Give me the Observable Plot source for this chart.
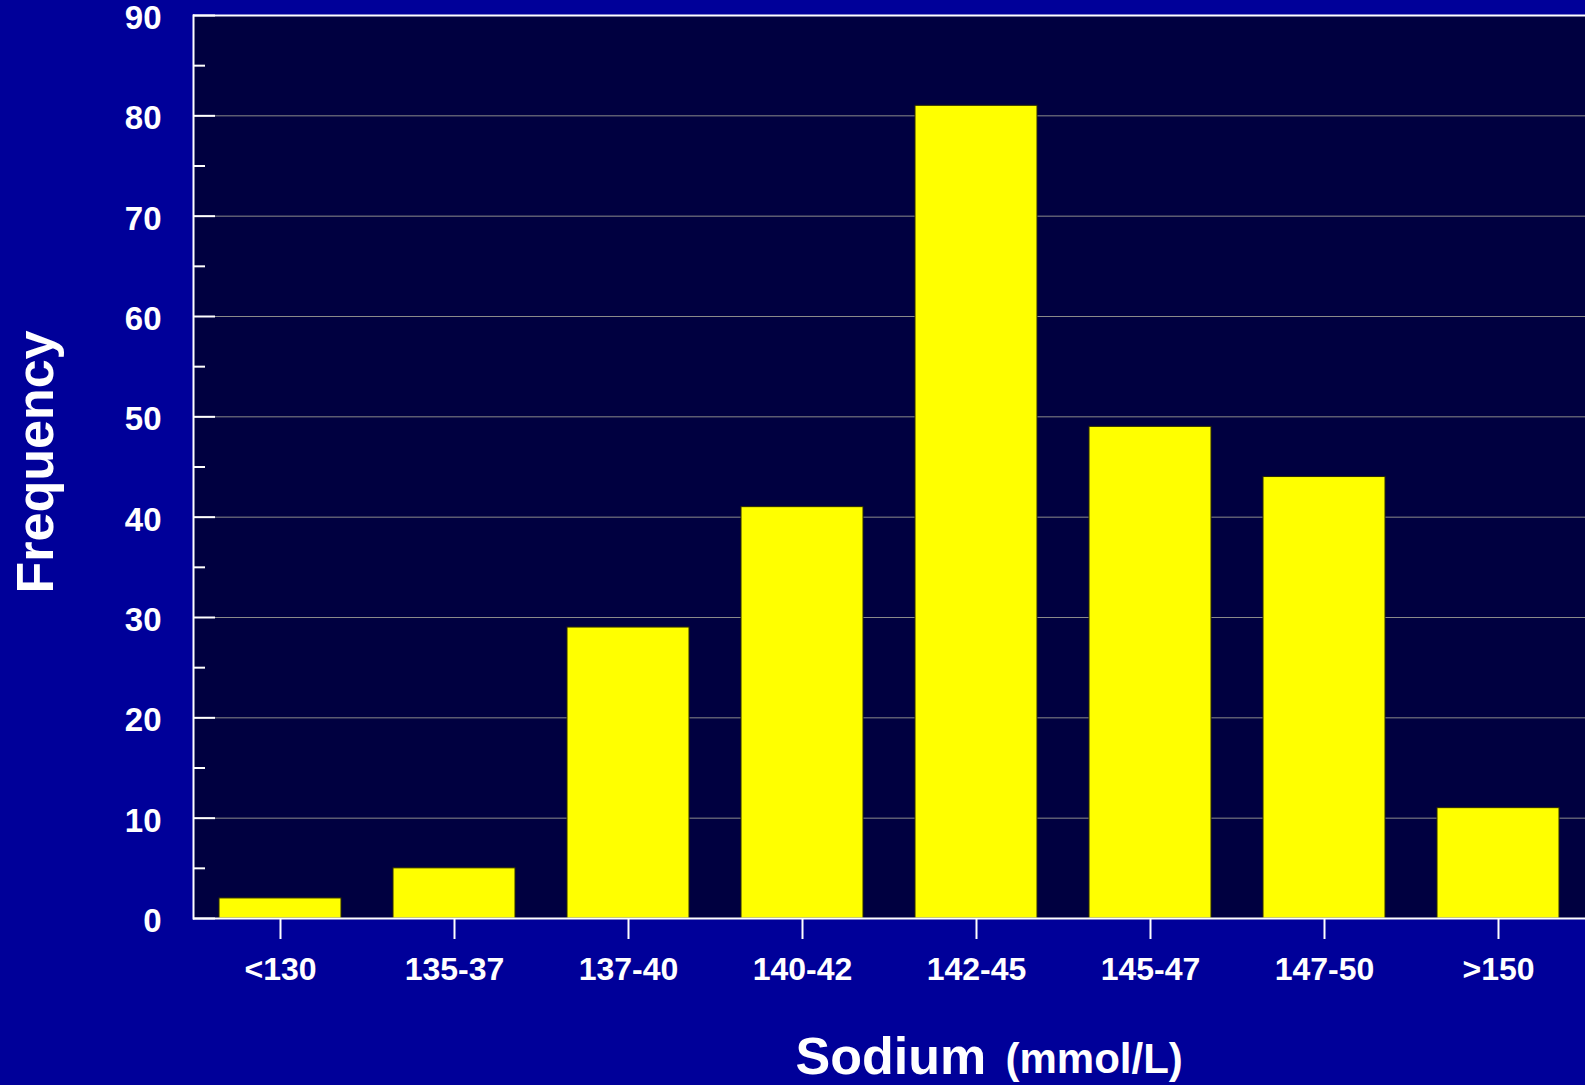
<!DOCTYPE html>
<html>
<head>
<meta charset="utf-8">
<script src="https://cdn.jsdelivr.net/npm/d3@7"></script>
<script src="https://cdn.jsdelivr.net/npm/@observablehq/plot@0.6"></script>
<style>
  html, body { margin: 0; padding: 0; background: #000099; overflow: hidden; }
  #chart svg { display: block; }
</style>
</head>
<body>
<div id="chart"></div>
<script>
const categories = ["<130", "135-37", "137-40", "140-42", "142-45", "145-47", "147-50", ">150"];
const frequencies = [2, 5, 29, 41, 81, 49, 44, 11];
const majorTicks = [0, 10, 20, 30, 40, 50, 60, 70, 80, 90];
const minorTicks = [5, 15, 25, 35, 45, 55, 65, 75, 85];
const gridTicks = [10, 20, 30, 40, 50, 60, 70, 80];
const yTitle = "Frequency";
const xTitleMain = "Sodium";
const xTitleUnit = "(mmol/L)";

const data = categories.map((c, i) => ({category: c, frequency: frequencies[i]}));

const W = 1585, H = 1085;
const mL = 193, mR = 0, mT = 15, mB = 167;
const frameW = W - mL - mR;
const font = "'Liberation Sans', Arial, sans-serif";

const chart = Plot.plot({
  width: W,
  height: H,
  marginLeft: mL,
  marginRight: mR,
  marginTop: mT,
  marginBottom: mB,
  style: {background: "transparent", color: "white", fontFamily: font, fontWeight: "bold"},
  x: {domain: categories, paddingInner: 0.3, paddingOuter: 0.15, axis: null},
  y: {domain: [0, 90], axis: null},
  marks: [
    Plot.frame({fill: "#000040"}),
    Plot.gridY(gridTicks, {stroke: "#8a8a8a", strokeOpacity: 1, strokeWidth: 1}),
    Plot.barY(data, {x: "category", y: "frequency", fill: "#ffff00", stroke: "#2a2a00", strokeWidth: 1}),
    Plot.ruleY([0], {stroke: "white", strokeWidth: 2}),
    Plot.ruleY([90], {stroke: "white", strokeWidth: 2}),
    Plot.frame({anchor: "left", stroke: "white", strokeWidth: 2}),
    Plot.tickY(majorTicks, {y: d => d, stroke: "white", strokeWidth: 2, insetRight: frameW - 22}),
    Plot.tickY(minorTicks, {y: d => d, stroke: "white", strokeWidth: 2, insetRight: frameW - 12}),
    Plot.axisY(majorTicks, {tickSize: 0, tickPadding: 32, fontSize: 33, fontWeight: "bold", color: "white", dy: 3, label: null, tickFormat: d => String(d)}),
    Plot.axisX({tickSize: 21, tickPadding: 18, fontSize: 32, fontWeight: "bold", color: "white", strokeWidth: 2, label: null}),
    Plot.text([yTitle], {frameAnchor: "left", rotate: -90, dx: -157, dy: -5, fontSize: 52, fontWeight: "bold", fill: "white", lineAnchor: "middle", textAnchor: "middle"}),
    Plot.text([xTitleMain], {frameAnchor: "bottom-left", dx: 602, dy: 139, fontSize: 52, fontWeight: "bold", fill: "white", lineAnchor: "middle", textAnchor: "start"}),
    Plot.text([xTitleUnit], {frameAnchor: "bottom-left", dx: 812, dy: 141, fontSize: 42, fontWeight: "bold", fill: "white", lineAnchor: "middle", textAnchor: "start"})
  ]
});
document.getElementById("chart").appendChild(chart);
</script>
</body>
</html>
